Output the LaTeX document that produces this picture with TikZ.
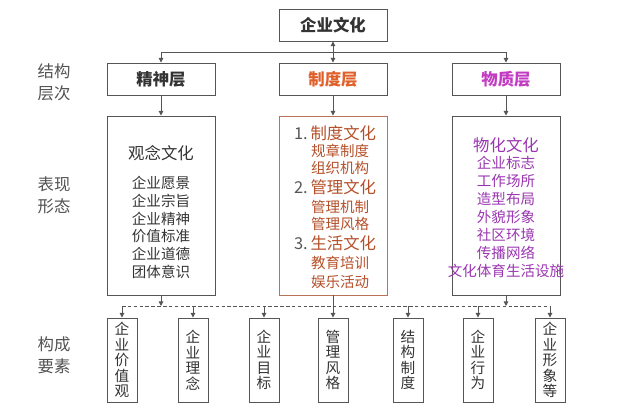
\documentclass[tikz,border=0pt]{standalone}
\usepackage{fontspec}
\setmainfont{Noto Sans CJK SC}
\usetikzlibrary{arrows.meta,positioning}
\definecolor{ecgray}{HTML}{555555}
\definecolor{ectext}{HTML}{333333}
\definecolor{ecorange}{HTML}{E0602A}
\definecolor{ecbrown}{HTML}{B5502A}
\definecolor{ecframe}{HTML}{B87355}
\definecolor{ecmagenta}{HTML}{C23BC2}
\definecolor{ecpurple}{HTML}{9A35B0}

\begin{document}
\begin{tikzpicture}[x=0.03cm, y=-0.03cm,
  head/.style={draw=ecgray, line width=0.8pt, inner sep=0pt, minimum width=3.24cm,
               minimum height=0.96cm, font=\fontsize{14}{16}\selectfont\bfseries, text=ectext},
  panel/.style={draw=ecgray, line width=0.8pt, inner sep=0pt, minimum width=3.24cm,
                minimum height=5.37cm},
  elem/.style={draw=ecgray, line width=0.8pt, inner sep=0pt, minimum width=0.9cm,
               minimum height=2.52cm, align=center, text=ectext,
               font=\fontsize{12.5}{13.2}\selectfont},
  side/.style={align=center, text=ectext!85, font=\fontsize{14}{18.8}\selectfont},
  ttl/.style={font=\fontsize{14}{16}\selectfont},
  item/.style={font=\fontsize{12.4}{14}\selectfont},
  line/.style={draw=ecgray, line width=0.8pt},
  tip/.style={-{Triangle[length=4pt,width=4pt]}},
  dashline/.style={draw=ecgray, line width=0.8pt, dash pattern=on 3pt off 2pt}
]
\useasboundingbox (0,0) rectangle (640,419);

% Top and structure level
\node[head] (culture) at (333,25) {企业文化};
\node[head] (jingshen) at (161,79) {精神层};
\node[head, text=ecorange] (zhidu) at (333,79) {制度层};
\node[head, text=ecmagenta] (wuzhi) at (506,79) {物质层};

% Side labels
\node[side] (lbl1) at (54,82) {结构\\层次};
\node[side] (lbl2) at (54,195) {表现\\形态};
\node[side] (lbl3) at (54,355) {构成\\要素};

% Panels
\node[panel] (jsBox) at (161,205.5) {};
\node[panel, draw=ecframe] (zdBox) at (333,205.5) {};
\node[panel] (wzBox) at (506,205.5) {};

% Spirit panel
\node[ttl, text=ectext] (jsTitle) at (161,153) {观念文化};
\foreach \t [count=\i from 0] in {企业愿景,企业宗旨,企业精神,价值标准,企业道德,团体意识}
  \node[item, text=ectext] (js\i) at (161,183+17.8*\i) {\t};

% System panel
\node[ttl, anchor=west, text=ecbrown] (zd1) at (290,133) {\textcolor{ecgray}{1.}\,制度文化};
\node[item, anchor=west, text=ecbrown] (zd1a) at (307,151) {规章制度};
\node[item, anchor=west, text=ecbrown] (zd1b) at (307,168) {组织机构};
\node[ttl, anchor=west, text=ecbrown] (zd2) at (290,187) {\textcolor{ecgray}{2.}\,管理文化};
\node[item, anchor=west, text=ecbrown] (zd2a) at (307,207) {管理机制};
\node[item, anchor=west, text=ecbrown] (zd2b) at (307,224) {管理风格};
\node[ttl, anchor=west, text=ecbrown] (zd3) at (290,243) {\textcolor{ecgray}{3.}\,生活文化};
\node[item, anchor=west, text=ecbrown] (zd3a) at (307,263) {教育培训};
\node[item, anchor=west, text=ecbrown] (zd3b) at (307,282) {娱乐活动};

% Material panel
\node[ttl, text=ecpurple] (wzTitle) at (506,145) {物化文化};
\foreach \t [count=\i from 0] in {企业标志,工作场所,造型布局,外貌形象,社区环境,传播网络,文化体育生活设施}
  \node[item, text=ecpurple] (wz\i) at (506,163+18*\i) {\t};

% Elements
\node[elem] (e1) at (122,360) {企\\业\\价\\值\\观};
\node[elem] (e2) at (193,360) {企\\业\\理\\念};
\node[elem] (e3) at (264,360) {企\\业\\目\\标};
\node[elem] (e4) at (333,360) {管\\理\\风\\格};
\node[elem] (e5) at (408,360) {结\\构\\制\\度};
\node[elem] (e6) at (478,360) {企\\业\\行\\为};
\node[elem] (e7) at (550,360) {企\\业\\形\\象\\等};

% Connectors
\coordinate (split) at (333,52);
\draw[line, {Triangle[length=4pt,width=4pt]}-{Triangle[length=4pt,width=4pt]}] (culture.south) -- (zhidu.north);
\draw[line, tip] (split) -| (jingshen.north);
\draw[line, tip] (split) -| (wuzhi.north);
\draw[line, tip] (jingshen) -- (jsBox);
\draw[line, tip] (zhidu) -- (zdBox);
\draw[line, tip] (wuzhi) -- (wzBox);

\coordinate (dl) at (122,306);
\coordinate (dr) at (550,306);
\draw[dashline] (dl) -- (dr);
\draw[line, tip] (jsBox.south) -- (jsBox.south |- dl);
\draw[line, tip] (wzBox.south) -- (wzBox.south |- dl);
\draw[line, tip] (zdBox.south) -- (e4.north);
\foreach \i in {1,2,3,5,6,7}
  \draw[line, tip] (e\i.north |- dl) -- (e\i.north);
\end{tikzpicture}
\end{document}
